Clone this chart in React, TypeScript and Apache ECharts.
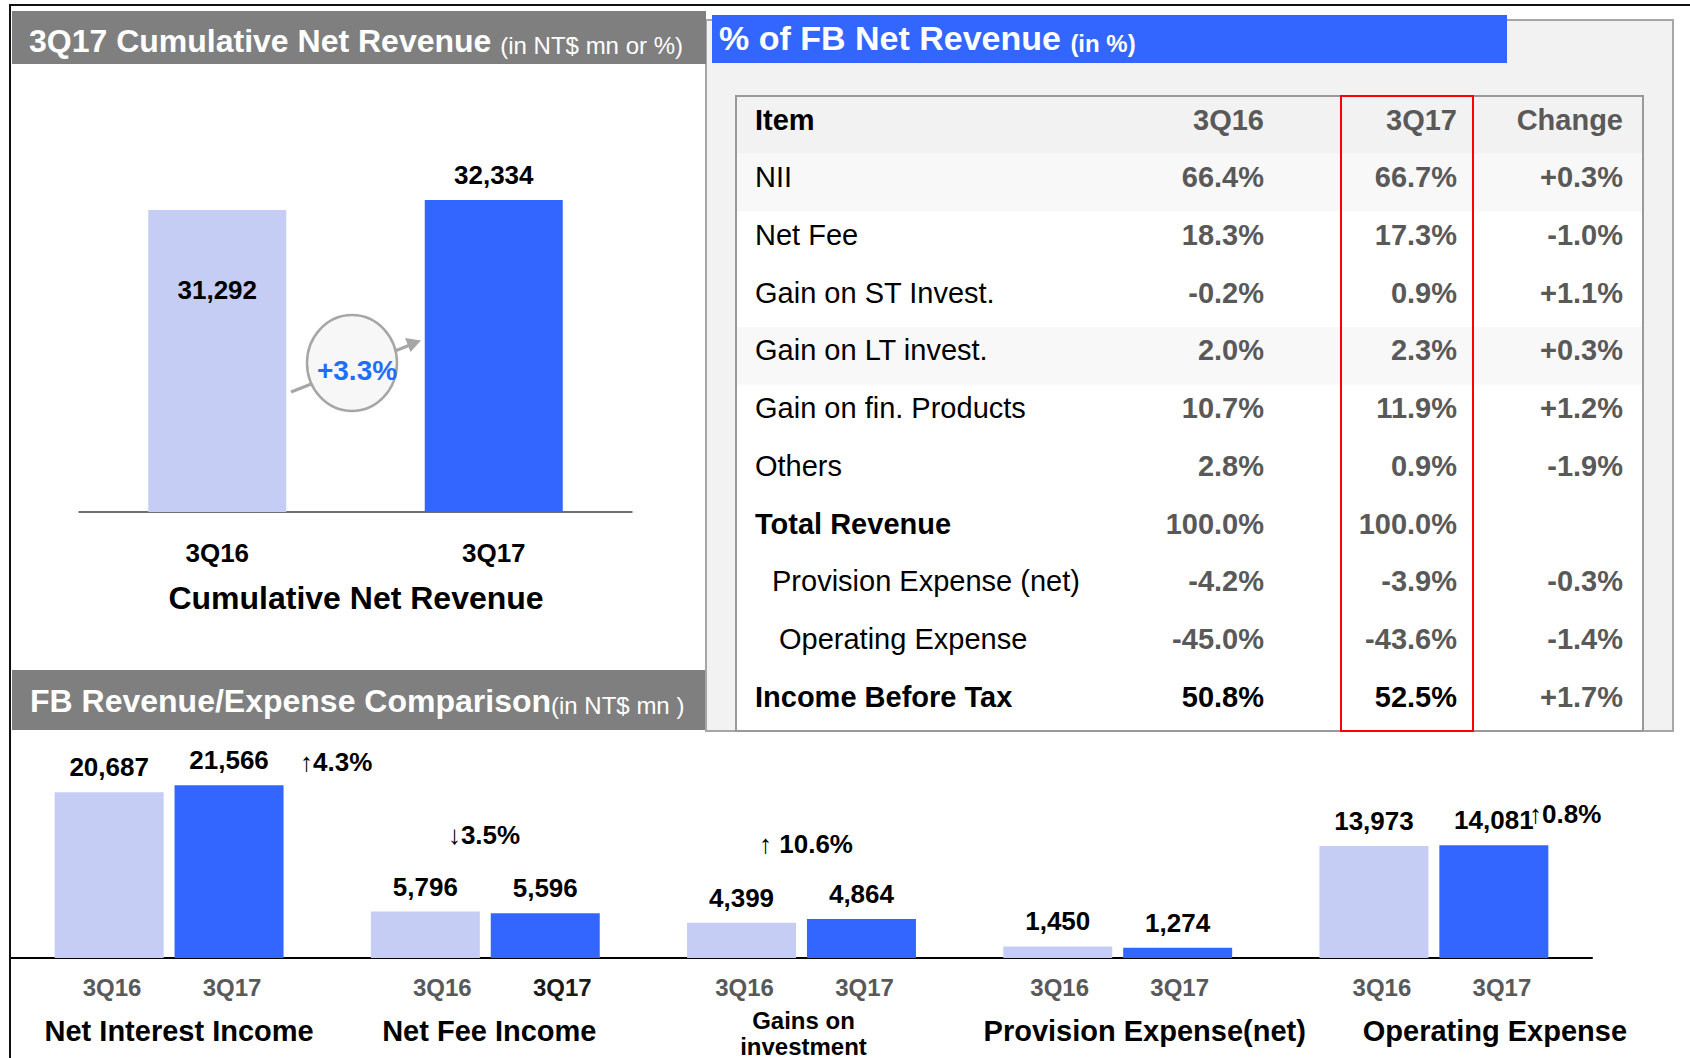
import React, { useEffect, useRef } from 'react';
import * as echarts from 'echarts';

// ---------- data ----------
const cumCategories = ['3Q16', '3Q17'];
const cumValues = [31292, 32334];
const cumChange = '+3.3%';

const groupNames = ['Net Interest Income', 'Net Fee Income', 'Gains on investment', 'Provision Expense(net)', 'Operating Expense'];
const periodLabels = ['3Q16', '3Q17'];
const values3Q16 = [20687, 5796, 4399, 1450, 13973];
const values3Q17 = [21566, 5596, 4864, 1274, 14081];
const groupChanges = ['↑4.3%', '↓3.5%', '↑ 10.6%', '', '↑0.8%'];

const tableHeader = ['Item', '3Q16', '3Q17', 'Change'];
const tableItems = ['NII', 'Net Fee', 'Gain on ST Invest.', 'Gain on LT invest.', 'Gain on fin. Products', 'Others', 'Total Revenue', 'Provision Expense (net)', 'Operating Expense', 'Income Before Tax'];
const table3Q16 = ['66.4%', '18.3%', '-0.2%', '2.0%', '10.7%', '2.8%', '100.0%', '-4.2%', '-45.0%', '50.8%'];
const table3Q17 = ['66.7%', '17.3%', '0.9%', '2.3%', '11.9%', '0.9%', '100.0%', '-3.9%', '-43.6%', '52.5%'];
const tableChange = ['+0.3%', '-1.0%', '+1.1%', '+0.3%', '+1.2%', '-1.9%', '', '-0.3%', '-1.4%', '+1.7%'];

// ---------- styles / layout ----------
const FONT = '"Liberation Sans", Arial, Helvetica, sans-serif';
const LIGHT = '#c5cdf4';
const BLUE = '#3366ff';
const GRAYBAR = '#7f7f7f';
const VALGRAY = '#595959';
const fmt = (v: number) => v.toLocaleString('en-US');

const boldRows = [6, 9];
const indentRows: Record<number, number> = { 7: 17, 8: 24 };
const shadedRows = [0, 3];
const changePos: (null | [number, number, string])[] = [[300, 762, 'left'], [484, 835, 'center'], [806, 844, 'center'], null, [1529, 814, 'left']];
const nameShift = [20, 8, 4, 54, 122];
const periodShift = [6, 34, 6, 4, 16];

function txt(text: string, x: number, y: number, o: any = {}) {
  return {
    type: 'text', x, y, z: o.z ?? 20,
    style: {
      text, fill: o.fill ?? '#000', fontSize: o.size ?? 29, fontWeight: o.weight ?? 'normal',
      fontFamily: FONT, align: o.align ?? 'left', verticalAlign: o.valign ?? 'middle', rich: o.rich,
    },
  };
}

function buildGraphic() {
  const els: any[] = [];
  // frame lines
  els.push({ type: 'line', z: 30, shape: { x1: 10, y1: 5, x2: 1690, y2: 5 }, style: { stroke: '#111', lineWidth: 2 } });
  els.push({ type: 'line', z: 30, shape: { x1: 10, y1: 4, x2: 10, y2: 1058 }, style: { stroke: '#111', lineWidth: 2 } });
  // right panel
  els.push({ type: 'rect', z: 1, shape: { x: 706, y: 20, width: 967, height: 711 }, style: { fill: '#f2f2f2', stroke: '#a6a6a6', lineWidth: 2 } });
  // title bars
  els.push({ type: 'rect', z: 2, shape: { x: 12, y: 11, width: 694, height: 53 }, style: { fill: GRAYBAR } });
  els.push({ type: 'rect', z: 2, shape: { x: 12, y: 670, width: 693, height: 60 }, style: { fill: GRAYBAR } });
  els.push({ type: 'rect', z: 3, shape: { x: 712, y: 15, width: 795, height: 48 }, style: { fill: BLUE } });
  els.push(txt('{a|3Q17 Cumulative Net Revenue }{b|(in NT$ mn or %)}', 29, 41, {
    rich: { a: { fontSize: 32, fontWeight: 'bold', fill: '#fff', fontFamily: FONT, verticalAlign: 'bottom' }, b: { fontSize: 24, fill: '#fff', fontFamily: FONT, verticalAlign: 'bottom' } },
  }));
  els.push(txt('{a|FB Revenue/Expense Comparison}{b|(in NT$ mn )}', 30, 701, {
    rich: { a: { fontSize: 32, fontWeight: 'bold', fill: '#fff', fontFamily: FONT, verticalAlign: 'bottom' }, b: { fontSize: 24, fill: '#fff', fontFamily: FONT, verticalAlign: 'bottom' } },
  }));
  els.push(txt('{a|% of FB Net Revenue }{b|(in %)}', 719, 38, {
    rich: { a: { fontSize: 34, fontWeight: 'bold', fill: '#fff', fontFamily: FONT, verticalAlign: 'bottom' }, b: { fontSize: 24, fontWeight: 'bold', fill: '#fff', fontFamily: FONT, verticalAlign: 'bottom' } },
  }));

  // table
  const TL = 736, TT = 96, TR = 1643, TB = 731;
  const rowH = (TB - TT) / 11;
  els.push({ type: 'rect', z: 4, shape: { x: TL, y: TT, width: TR - TL, height: TB - TT }, style: { fill: '#fff' } });
  els.push({ type: 'rect', z: 5, shape: { x: TL, y: TT, width: TR - TL, height: rowH }, style: { fill: '#f2f2f2' } });
  shadedRows.forEach((r) => {
    els.push({ type: 'rect', z: 5, shape: { x: TL, y: TT + rowH * (r + 1), width: TR - TL, height: rowH }, style: { fill: '#f8f8f8' } });
  });
  els.push({ type: 'rect', z: 6, shape: { x: TL, y: TT, width: TR - TL, height: TB - TT }, style: { fill: 'none', stroke: '#999', lineWidth: 2 } });
  els.push({ type: 'rect', z: 7, shape: { x: 1341, y: TT, width: 132, height: TB - TT }, style: { fill: 'none', stroke: '#ff0000', lineWidth: 2 } });
  const colX = [755, 1264, 1457, 1623];
  const ty = (i: number) => TT + rowH * i + 23.5;
  els.push(txt(tableHeader[0], colX[0], ty(0), { weight: 'bold' }));
  for (let c = 1; c < 4; c++) els.push(txt(tableHeader[c], colX[c], ty(0), { weight: 'bold', align: 'right', fill: VALGRAY }));
  tableItems.forEach((item, r) => {
    const y = ty(r + 1);
    const bold = boldRows.includes(r);
    els.push(txt(item, colX[0] + (indentRows[r] ?? 0), y, { weight: bold ? 'bold' : 'normal' }));
    const vfill = r === 9 ? '#000' : VALGRAY;
    els.push(txt(table3Q16[r], colX[1], y, { weight: 'bold', align: 'right', fill: vfill }));
    els.push(txt(table3Q17[r], colX[2], y, { weight: 'bold', align: 'right', fill: vfill }));
    if (tableChange[r]) els.push(txt(tableChange[r], colX[3], y, { weight: 'bold', align: 'right', fill: VALGRAY }));
  });

  // top chart decorations
  els.push({ type: 'line', z: 10, shape: { x1: 291, y1: 392, x2: 410, y2: 345 }, style: { stroke: '#a6a6a6', lineWidth: 3 } });
  els.push({ type: 'polygon', z: 10, shape: { points: [[421, 340.5], [405, 338], [410.5, 352]] }, style: { fill: '#a6a6a6' } });
  els.push({ type: 'ellipse', z: 11, shape: { cx: 352, cy: 363, rx: 45, ry: 48 }, style: { fill: '#f7f7f7', stroke: '#a6a6a6', lineWidth: 2.5 } });
  els.push(txt(cumChange, 357, 370, { z: 12, size: 28, weight: 'bold', fill: '#1f6fff', align: 'center' }));
  els.push(txt('Cumulative Net Revenue', 356, 598, { size: 32, weight: 'bold', align: 'center' }));

  // bottom chart change annotations
  groupChanges.forEach((t, i) => {
    const p = changePos[i];
    if (t && p) els.push(txt(t, p[0], p[1], { size: 26, weight: 'bold', align: p[2] }));
  });
  return els;
}

function buildOption() {
  const rich: any = {
    a: { width: 120, align: 'center', fontSize: 24, fontWeight: 'bold', color: VALGRAY, lineHeight: 40, fontFamily: FONT },
    k: { width: 120, align: 'center', fontSize: 24, fontWeight: 'bold', color: '#1a1a1a', lineHeight: 40, fontFamily: FONT },
    g: { align: 'center', fontSize: 24, fontWeight: 'bold', color: '#000', lineHeight: 26, fontFamily: FONT, padding: [0, 0, 0, 4] },
  };
  nameShift.forEach((s, i) => {
    rich['n' + i] = { align: 'center', fontSize: 29, fontWeight: 'bold', color: '#000', lineHeight: 48, fontFamily: FONT, padding: [0, 0, 0, s] };
  });
  periodShift.forEach((s, i) => {
    rich['s' + i] = { align: 'center', width: s, fontSize: 24, lineHeight: 40, fontFamily: FONT, color: 'transparent' };
  });

  return {
    animation: false,
    backgroundColor: '#fff',
    textStyle: { fontFamily: FONT },
    graphic: { elements: buildGraphic() },
    grid: [
      { left: 79, top: 200, width: 553, height: 312 },
      { left: 11, top: 757.7, width: 1581, height: 201.3 },
    ],
    xAxis: [
      {
        type: 'category', gridIndex: 0, data: cumCategories,
        axisLine: { lineStyle: { color: '#404040', width: 1.5 } }, axisTick: { show: false },
        axisLabel: { margin: 28, fontSize: 26, fontWeight: 'bold', color: '#000', fontFamily: FONT },
      },
      {
        type: 'category', gridIndex: 1, data: groupNames,
        axisLine: { lineStyle: { color: '#000', width: 2 } }, axisTick: { show: false },
        axisLabel: {
          interval: 0, margin: 9, rich,
          formatter: (name: string, i: number) => {
            const first = `{s${i}| }{a|${periodLabels[0]}}{${i === 1 ? 'k' : 'a'}|${periodLabels[1]}}`;
            if (name === 'Gains on investment') return `${first}\n{g|Gains on}\n{g|investment}`;
            return `${first}\n{n${i}|${name}}`;
          },
        },
      },
    ],
    yAxis: [
      { type: 'value', gridIndex: 0, min: 0, max: 'dataMax', show: false },
      { type: 'value', gridIndex: 1, min: 0, max: 25000, show: false },
    ],
    series: [
      {
        type: 'bar', xAxisIndex: 0, yAxisIndex: 0, barWidth: 138, z: 5,
        label: { show: true, formatter: (p: any) => fmt(p.value), fontSize: 26, fontWeight: 'bold', color: '#000', fontFamily: FONT },
        data: cumValues.map((v, i) => ({
          value: v,
          itemStyle: { color: i === 0 ? LIGHT : BLUE },
          label: i === 0
            ? { show: true, position: ['50%', 80], align: 'center', verticalAlign: 'middle' }
            : { show: true, position: 'top', distance: 12 },
        })),
      },
      {
        name: periodLabels[0], type: 'bar', xAxisIndex: 1, yAxisIndex: 1, barWidth: 109, barGap: '10%', z: 5,
        itemStyle: { color: LIGHT }, data: values3Q16,
        label: { show: true, position: 'top', distance: 12, formatter: (p: any) => fmt(p.value), fontSize: 26, fontWeight: 'bold', color: '#000', fontFamily: FONT },
      },
      {
        name: periodLabels[1], type: 'bar', xAxisIndex: 1, yAxisIndex: 1, barWidth: 109, barGap: '10%', z: 5,
        itemStyle: { color: BLUE }, data: values3Q17,
        label: { show: true, position: 'top', distance: 12, formatter: (p: any) => fmt(p.value), fontSize: 26, fontWeight: 'bold', color: '#000', fontFamily: FONT },
      },
    ],
  };
}

export default function App() {
  const ref = useRef<HTMLDivElement>(null);
  useEffect(() => {
    const chart = echarts.init(ref.current!, undefined, { renderer: 'svg' });
    chart.setOption(buildOption() as any);
    return () => chart.dispose();
  }, []);
  return <div ref={ref} style={{ position: 'absolute', left: 0, top: 0, width: 1690, height: 1058, background: '#fff' }} />;
}
